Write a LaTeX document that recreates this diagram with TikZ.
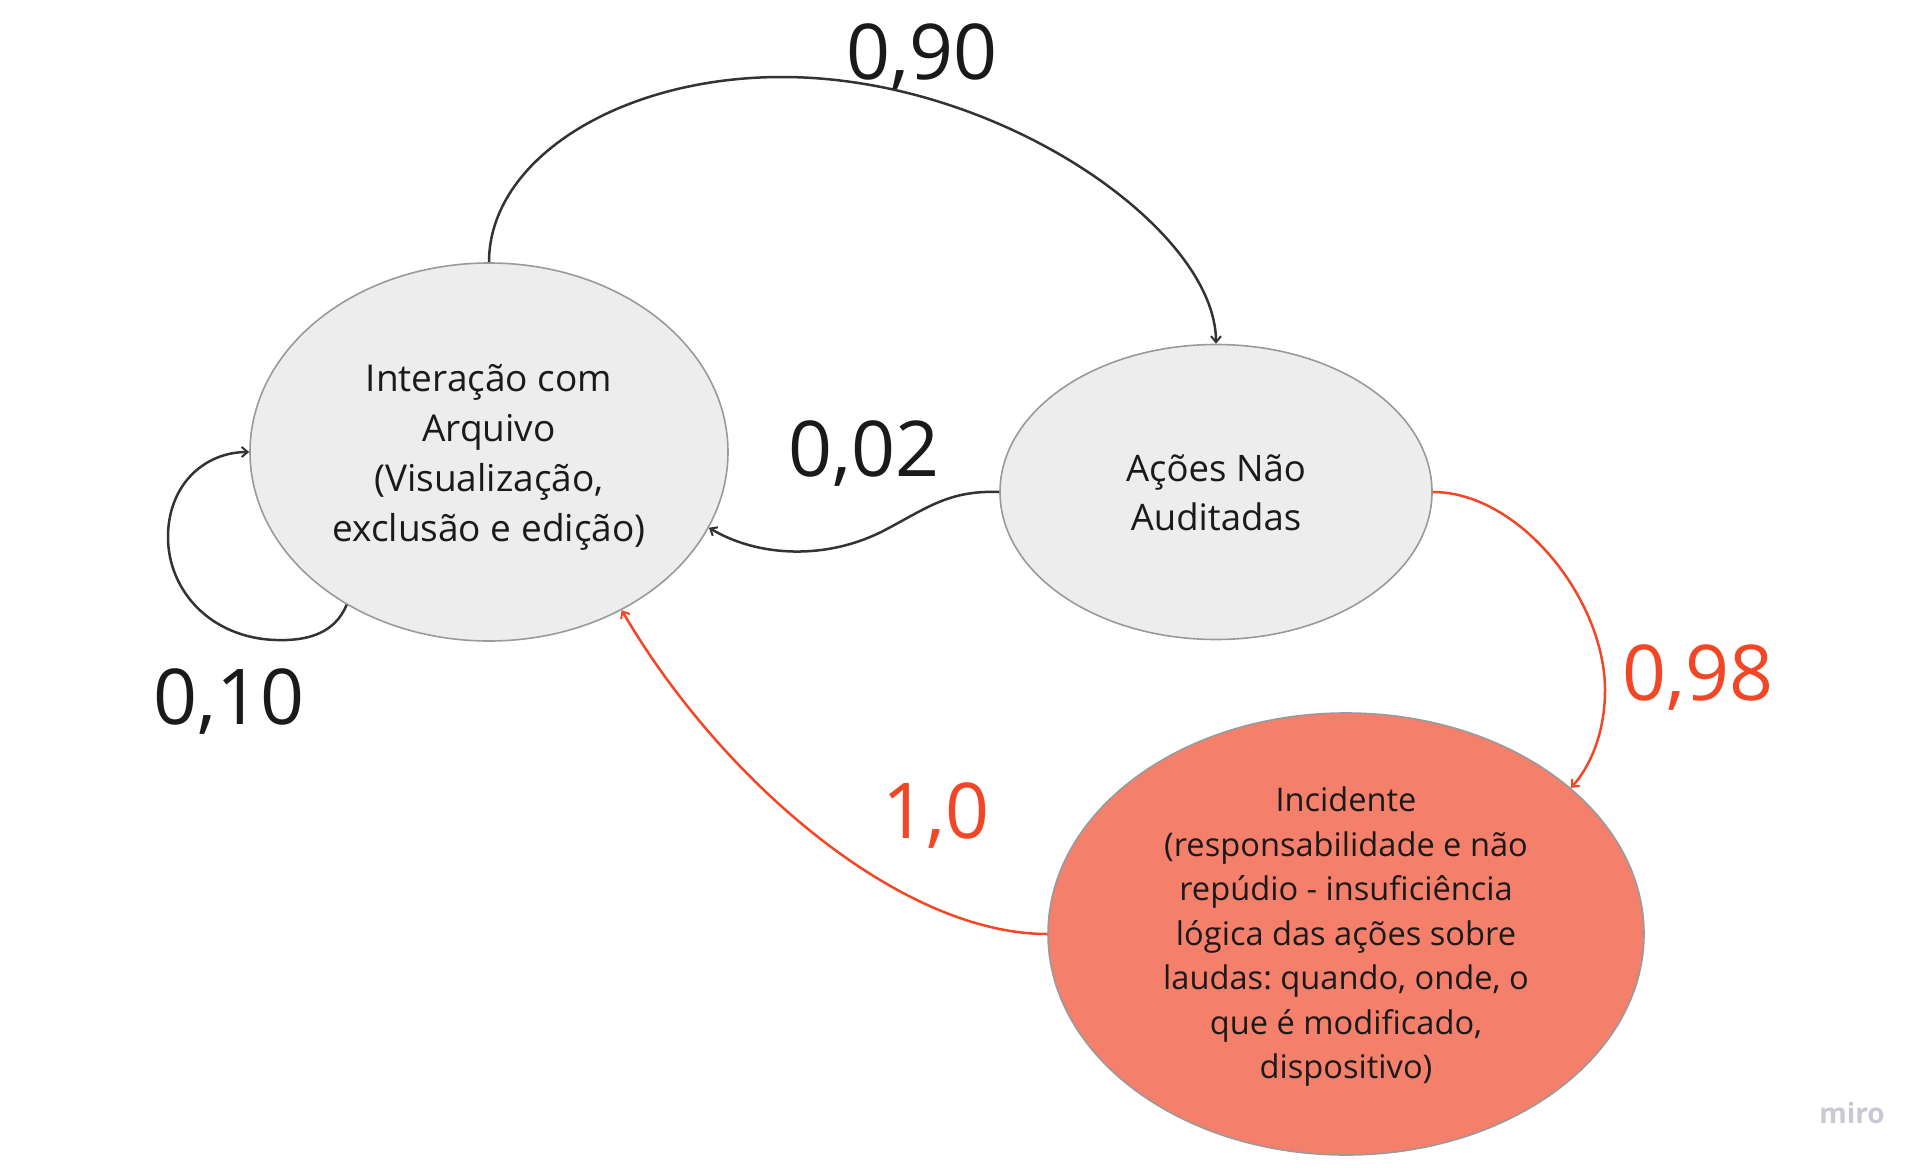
\documentclass[tikz,border=0pt]{standalone}
\usepackage{fontspec}
\setmainfont{Open Sans}
\frenchspacing
\usetikzlibrary{shapes.geometric,arrows.meta}
\definecolor{nodegray}{HTML}{EDEDED}
\definecolor{bordergray}{HTML}{9A9A9A}
\definecolor{salmon}{HTML}{F47F6A}
\definecolor{miroRed}{HTML}{F24726}
\definecolor{darkline}{HTML}{333333}
\definecolor{textblack}{HTML}{1A1A1A}
\definecolor{logogray}{HTML}{C9C9D6}
\begin{document}
\begin{tikzpicture}[x=1pt,y=-1pt,
  state/.style={ellipse,draw=bordergray,line width=1.6pt,inner sep=0pt},
  statetext/.style={align=center,text=textblack,inner sep=0pt},
  conn/.style={draw=darkline,line width=2.5pt,-{Straight Barb[length=6pt,width=10pt,line width=2pt]}},
  redconn/.style={draw=miroRed,line width=2.5pt,-{Straight Barb[length=6pt,width=10pt,line width=2pt]}},
  prob/.style={text=textblack,inner sep=0pt,font=\fontsize{77}{92}\selectfont},
  redprob/.style={text=miroRed,inner sep=0pt,font=\fontsize{77}{92}\selectfont}]
\useasboundingbox (0,0) rectangle (1927,1167);
\fill[white] (0,0) rectangle (1927,1167);

% states
\node[state,fill=nodegray,minimum width=478pt,minimum height=378pt] (e1) at (489,452) {};
\node[state,fill=nodegray,minimum width=432pt,minimum height=295pt] (e2) at (1216,492) {};
\node[state,fill=salmon,minimum width=596pt,minimum height=442pt] (e3) at (1346,934) {};

\node[statetext,font=\fontsize{37}{50}\selectfont\frenchspacing] (t1) at ([yshift=-5pt]e1.center)
  {Interação com\\Arquivo\\(Visualização,\\exclusão e edição)};
\node[statetext,font=\fontsize{36.5}{49}\selectfont\frenchspacing] (t2) at ([yshift=-1pt]e2.center)
  {Ações Não\\Auditadas};
\node[statetext,font=\fontsize{32.6}{44.5}\selectfont\frenchspacing] (t3) at ([yshift=-3pt]e3.center)
  {Incidente\\(responsabilidade e não\\repúdio - insuficiência\\lógica das ações sobre\\laudas: quando, onde, o\\que é modificado,\\dispositivo)};

% helper coordinates
\coordinate (k90) at (782,77);
\coordinate (k02) at (885,530);
\coordinate (k10a) at (276,640);
\coordinate (k10b) at (168,537);
\coordinate (k98) at (1605,690);

% connectors
\draw[conn] (e1.north) .. controls +(0,-103) and +(-162,0) .. (k90)
  .. controls +(218,0) and +(0,-114) .. (e2.north);
\draw[conn] (e2.west) .. controls +(-50,-2) and +(42,-22) .. (k02)
  .. controls +(-57,30) and +(50,30) .. (e1.-19.4);
\draw[conn] (e1.-133) .. controls +(-12,30) and +(29,1) .. (k10a)
  .. controls +(-66,-2) and +(0,53) .. (k10b)
  .. controls +(0,-52) and +(-45,0) .. (e1.west);
\draw[redconn] (e2.east) .. controls +(87,0) and +(0,-90) .. (k98)
  .. controls +(0,45) and +(18,-20) .. (e3.33.4);
\draw[redconn] (e3.west) .. controls +(-148,0) and +(98,168) .. (e1.-50.3);

% probabilities
\node[prob] (p90) at (922,57) {0,90};
\node[prob] (p02) at (864,454) {0,02};
\node[prob] (p10) at (229,702) {0,10};
\node[redprob] (p98) at (1698,678) {0,98};
\node[redprob] (p10r) at (936,816) {1,0};

% logo
\node[text=logogray,inner sep=0pt,font=\bfseries\fontsize{28}{32}\selectfont] (logo) at (1852,1113) {miro};
\end{tikzpicture}
\end{document}
